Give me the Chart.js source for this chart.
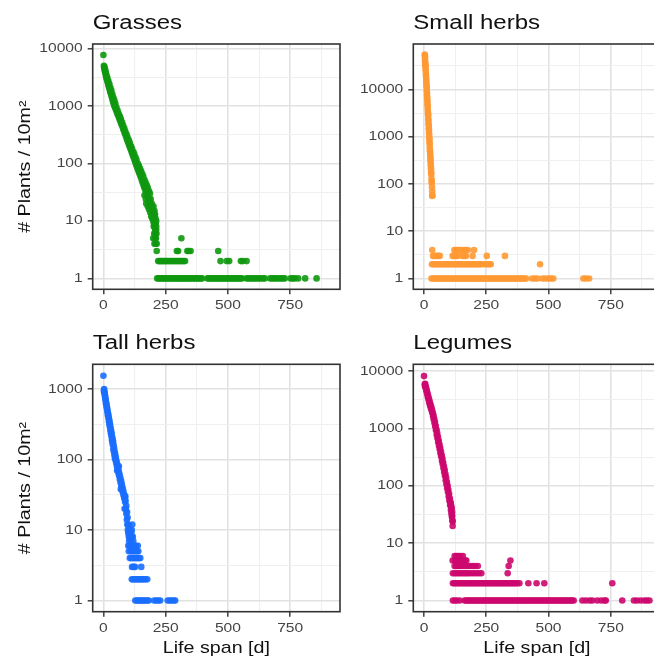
<!DOCTYPE html>
<html>
<head>
<meta charset="utf-8">
<title>Life span per plant group</title>
<script src="https://cdn.jsdelivr.net/npm/chart.js@4.4.1/dist/chart.umd.min.js"></script>
<style>
  body { margin: 0; background: #fff; overflow: hidden; }
  #wrap { position: relative; width: 654px; height: 667px; overflow: hidden; }
  #wrap canvas { position: absolute; }
</style>
</head>
<body>
<div id="wrap">
  <canvas id="grasses" width="345" height="330" style="left:0;top:0"></canvas>
  <canvas id="smallherbs" width="330" height="330" style="left:345px;top:0"></canvas>
  <canvas id="tallherbs" width="345" height="337" style="left:0;top:330px"></canvas>
  <canvas id="legumes" width="330" height="337" style="left:345px;top:330px"></canvas>
</div>
<script>
'use strict'

  ///////////////////////////////
 // Achsen: Werte und Gitter  //
///////////////////////////////

const xTickValues = [0, 250, 500, 750];
const xMinorValues = [125, 375, 625, 875];
const yTickValues = [1, 10, 100, 1000, 10000];
const yMinorValues = [3.162, 31.62, 316.2, 3162, 31623];

const X_TITLE = 'Life span [d]';
const Y_TITLE = '# Plants / 10m²';

  ////////////////////////////////////////////////////////////
 // Daten: [Lebensdauer in Tagen, Pflanzen pro 10 m²]      //
 // steep = dichter Abfall, sparse = [Anzahl, [Tage ...]]  //
////////////////////////////////////////////////////////////

const grassesSteep = [
  [0,7700],[2,5000],[3,4600],[5,4300],[6,4000],[8,3700],[10,3400],[11,3200],[13,3000],[15,2800],
  [17,2600],[19,2400],[21,2250],[23,2100],[25,1950],[27,1800],[29,1700],[31,1600],[33,1480],[35,1380],
  [37,1280],[39,1200],[41,1120],[43,1050],[45,990],[47,940],[50,870],[53,800],[56,740],[59,690],
  [62,640],[65,590],[68,545],[71,500],[74,465],[77,430],[80,395],[83,365],[86,335],[89,310],
  [92,285],[95,260],[98,240],[101,222],[104,205],[107,190],[110,175],[113,160],[116,148],[119,136],
  [122,125],[125,115],[128,106],[131,97],[134,89],[137,82],[140,76],[143,70],[146,65],[149,60],
  [152,55],[155,50],[158,46],[161,42],[164,39],[167,36],[170,33],[173,30],[176,28],[179,26],
  [182,24],[185,22],[188,20],[191,18],[194,17],[197,15],[200,14],[203,13],[206,12],[209,11],[212,10],
  [4,4800],[7,4300],[9,3900],[12,3500],[16,3100],[20,2700],[24,2400],[28,2100],[32,1850],[36,1600],
  [40,1400],[44,1250],[48,1100],[52,950],[57,830],[61,740],[66,660],[70,590],[75,520],[79,460],
  [84,410],[88,360],[93,320],[97,285],[102,255],[106,228],[111,200],[115,180],[120,160],[124,145],
  [129,128],[133,115],[138,100],[142,92],[147,82],[151,74],[156,66],[160,60],[165,52],[169,47],
  [174,42],[178,38],[183,33],[187,30],
  [165,28],[170,24],[172,20],[176,34],[178,18],[180,22],[183,16],[186,19],[188,14],[190,24],
  [192,12],[194,20],[196,11],[198,16],[200,10],[201,18],[202,8],[203,9],[204,6],[205,15],
  [206,8],[207,13],[208,7],[209,6],[210,9],[211,5],[212,8],[213,6],[214,4],[205,4],
  [208,5],[210,4],[200,5],[212,7]
];
const grassesSparse = [
  [5, [313]],
  [3, [214, 295, 300, 337, 342, 350, 461]],
  [2, [220, 225, 230, 235, 240, 245, 250, 256, 262, 268, 274, 280, 286, 292, 298, 304, 310, 316, 322, 328,
       470, 495, 505, 552, 560, 575]],
  [1, [216, 222, 228, 234, 240, 246, 252, 258, 264, 270, 276, 282, 288, 294, 300, 306, 312, 318, 324, 330,
       336, 342, 348, 354, 360, 366, 372, 378, 384, 390, 396, 418, 424, 430, 436, 442, 448, 454, 460, 466,
       472, 478, 484, 490, 496, 502, 508, 514, 520, 526, 532, 538, 544, 550, 556, 575, 582, 590, 598, 606,
       614, 622, 630, 640, 648, 670, 678, 686, 694, 704, 712, 720, 728, 752, 760, 768, 782, 810, 856]]
];

const smallHerbsSteep = [
  [3,55000],[4,48000],[4,42000],[5,38000],[5,34000],[6,30000],[7,24000],[8,19000],[9,15000],[10,12000],
  [11,9500],[12,7500],[12,8500],[13,6000],[14,4800],[15,3800],[16,3000],[16,3300],[17,2400],[18,1900],
  [19,1500],[20,1200],[21,950],[22,760],[23,600],[24,480],[24,520],[25,390],[26,310],[27,250],
  [28,200],[28,220],[29,160],[30,130],[31,105],[32,85],[33,70],[33,56],[34,58],
  [4,52000],[6,33000],[7,27000],[8,21000],[9,17000],[10,13500],[11,11000],[13,6800],[14,5500],[15,4400],
  [17,2800],[18,2200],[19,1750],[20,1400],[21,1100],[22,880],[23,700],[25,430],[26,350],[27,280],
  [29,175],[31,115]
];
const smallHerbsSparse = [
  [4, [33, 122, 128, 135, 142, 148, 160, 168, 176, 201]],
  [3, [36, 42, 50, 58, 63, 115, 120, 125, 130, 136, 155, 162, 168, 195, 252, 325]],
  [2, [32, 38, 44, 50, 56, 62, 68, 74, 80, 86, 92, 98, 104, 110, 116, 122, 128, 134, 140, 146,
       152, 158, 164, 170, 176, 182, 188, 194, 200, 206, 212, 218, 224, 230, 240, 250, 256, 262, 268, 466]],
  [1, [30, 36, 42, 48, 54, 60, 66, 72, 78, 84, 90, 96, 102, 108, 114, 120, 126, 132, 138, 144,
       150, 156, 162, 168, 174, 180, 186, 192, 198, 204, 210, 216, 222, 228, 234, 240, 246, 252, 258, 264,
       270, 276, 282, 288, 294, 300, 306, 312, 318, 324, 330, 336, 342, 348, 354, 360, 366, 372, 378, 384,
       390, 396, 402, 410, 434, 445, 456, 476, 488, 500, 510, 519, 640, 650, 663]]
];

const tallHerbsSteep = [
  [0,1540],[2,955],[3,900],[4,870],[6,780],[8,705],[10,630],[12,575],[14,525],[16,470],
  [18,425],[20,390],[22,350],[24,315],[26,290],[28,260],[30,235],[32,215],[34,190],[36,175],
  [38,160],[40,140],[42,130],[44,117],[46,105],[48,100],[51,90],[54,81],[57,72],[60,65],
  [63,59],[66,52],[69,47],[72,42],[75,38],[78,34],[81,31],[84,28],[87,25],[90,20],
  [92,17],[94,14],[96,12],[98,10],[100,9],[102,8],[103,7],[55,70],[62,80],[70,38],
  [85,20],[88,30],[92,22],[95,18],[97,15],[100,12],[102,11],[104,9],[106,8],[108,10],
  [110,7],[112,9],[115,8],[114,10],[118,8],[120,7],[116,12],
  [3,1000],[5,900],[7,800],[9,720],[11,650],[13,590],[15,540],[17,490],[19,450],[21,410],
  [23,370],[25,340],[27,310],[29,280],[31,255],[33,235],[35,210],[37,195],[39,180],[41,160],
  [43,145],[45,130],[47,120],[50,108],[53,95],[56,85],[59,76],[62,68],[65,61],[68,55],
  [71,50],[74,45],[77,40],[80,36],[83,32],[86,29],[89,26]
];
const tallHerbsSparse = [
  [6, [100, 106, 112, 118, 124, 130, 138]],
  [5, [102, 110, 118, 126, 134, 140]],
  [4, [106, 112, 118, 124, 130, 136, 142, 148]],
  [3, [115, 121, 127, 152]],
  [2, [114, 120, 126, 132, 138, 144, 150, 156, 162, 168, 176]],
  [1, [128, 134, 140, 146, 152, 158, 164, 170, 176, 182, 204, 212, 220, 228, 258, 266, 274, 282, 288]]
];

const legumesSteep = [
  [0,8200],[3,5900],[4,5500],[6,5200],[9,4600],[12,4100],[15,3600],[18,3200],[21,2850],[24,2550],
  [27,2300],[30,2100],[33,1900],[36,1650],[39,1450],[42,1250],[45,1080],[48,930],[51,780],[54,675],
  [57,575],[60,500],[63,435],[66,370],[69,325],[72,275],[75,240],[78,205],[81,175],[84,150],
  [87,125],[90,107],[93,91],[96,78],[99,65],[102,55],[105,46],[108,38],[110,33],[112,29],
  [114,25],[115,20],[111,40],[113,30],[115,24],[109,45],[106,52],
  [5,6000],[8,5300],[11,4700],[14,4150],[17,3700],[20,3300],[23,2950],[26,2650],[29,2400],[32,2150],
  [35,1900],[38,1700],[41,1480],[44,1300],[47,1120],[50,960],[53,830],[56,720],[59,620],[62,530],
  [65,460],[68,400],[71,345],[74,300],[77,255],[80,220],[83,190],[86,160],[89,138],[92,117],
  [95,100],[98,85],[101,72],[104,60],[107,50],[110,42],[113,35]
];
const legumesSparse = [
  [6, [123, 130, 138, 146, 156]],
  [5, [115, 125, 135, 145, 155, 165, 170, 347]],
  [4, [123, 130, 138, 146, 155, 165, 175, 185, 195, 205, 216, 340]],
  [3, [116, 124, 132, 140, 148, 156, 164, 172, 180, 190, 200, 210, 220, 230, 336]],
  [2, [116, 122, 128, 134, 140, 146, 152, 158, 164, 170, 176, 182, 188, 194, 200, 206, 212, 218, 224, 230,
       236, 242, 248, 254, 260, 266, 272, 278, 284, 290, 296, 302, 308, 314, 320, 326, 332, 338, 344, 350,
       356, 362, 368, 374, 383, 419, 452, 483, 756]],
  [1, [116, 124, 132, 143, 163, 169, 175, 181, 187, 193, 199, 205, 211, 217, 223, 229, 235, 241, 247, 253,
       259, 265, 271, 277, 283, 289, 295, 301, 307, 313, 319, 325, 331, 337, 343, 349, 355, 361, 367, 373,
       379, 385, 391, 397, 403, 409, 415, 421, 427, 433, 439, 445, 451, 457, 463, 469, 475, 481, 487, 493,
       499, 505, 511, 517, 523, 529, 535, 541, 547, 553, 559, 565, 571, 577, 583, 589, 595, 601, 636, 650,
       665, 676, 696, 712, 725, 730, 796, 843, 855, 870, 885, 895, 905]]
];

  //////////////////////////////////////////
 // Panels: Titel, Farbe, Skalen, Fläche //
//////////////////////////////////////////

const FONT = "'Liberation Sans', Arial, sans-serif";
const STRETCH = 1.2;   // Schrift etwas breiter laufen lassen

const panels = [
  { id: 'grasses', title: 'Grasses', steep: grassesSteep, sparse: grassesSparse,
    color: 'rgba(16,152,16,0.9)', logRange: [-0.19, 4.078],
    area: { left: 92.7, top: 44, right: 340, bottom: 289.3 }, yTitle: true, xTitle: false },
  { id: 'smallherbs', title: 'Small herbs', steep: smallHerbsSteep, sparse: smallHerbsSparse,
    color: 'rgba(255,153,51,0.9)', logRange: [-0.23, 4.965],
    area: { left: 68.3, top: 44, right: 315.6, bottom: 289.3 }, yTitle: false, xTitle: false },
  { id: 'tallherbs', title: 'Tall herbs', steep: tallHerbsSteep, sparse: tallHerbsSparse,
    color: 'rgba(26,110,255,0.9)', logRange: [-0.158, 3.35],
    area: { left: 92.7, top: 34.3, right: 340, bottom: 281.7 }, yTitle: true, xTitle: true },
  { id: 'legumes', title: 'Legumes', steep: legumesSteep, sparse: legumesSparse,
    color: 'rgba(204,8,110,0.9)', logRange: [-0.194, 4.12],
    area: { left: 68.3, top: 34.3, right: 315.6, bottom: 281.7 }, yTitle: false, xTitle: true }
];

/**
 * Text mit horizontaler Streckung zeichnen
 */
const wideText = ( ctx, text, x, y, align, size, color, rotate ) => {
  ctx.save();
  ctx.translate( x, y );
  if( rotate ) ctx.rotate( -Math.PI / 2 );
  ctx.scale( STRETCH, 1 );
  ctx.font = `${size}px ${FONT}`;
  ctx.fillStyle = color;
  ctx.textAlign = align;
  ctx.textBaseline = 'middle';
  ctx.fillText( text, 0, 0 );
  ctx.restore();
}

const isDecade = v => Math.abs( Math.log10(v) - Math.round(Math.log10(v)) ) < 1e-6;

  /////////////////////////////////////////////////////
 // Rahmen, Achsenbeschriftung und Titel pro Panel  //
/////////////////////////////////////////////////////

const panelDecor = {
  id: 'panelDecor',
  afterDraw( chart, args, opts ){
    const { ctx, chartArea: a, scales: { x, y } } = chart;

    ctx.save();
    ctx.strokeStyle = '#333333';
    ctx.lineWidth = 1.6;
    ctx.strokeRect( a.left, a.top, a.right - a.left, a.bottom - a.top );
    ctx.restore();

    xTickValues.forEach( v =>
      wideText( ctx, String(v), x.getPixelForValue(v), a.bottom + 16.5, 'center', 13, '#444444' ));

    yTickValues.filter( v => v >= y.min && v <= y.max ).forEach( v =>
      wideText( ctx, String(v), a.left - 10, y.getPixelForValue(v), 'right', 13, '#444444' ));

    wideText( ctx, opts.title, a.left, a.top - 21, 'left', 20, '#111111' );

    if( opts.xTitle )
      wideText( ctx, X_TITLE, (a.left + a.right) / 2, a.bottom + 36.5, 'center', 16.4, '#111111' );

    if( opts.yTitle )
      wideText( ctx, Y_TITLE, 25, (a.top + a.bottom) / 2, 'center', 16.4, '#111111', true );
  }
};

const gridColor = major => major ? '#e2e2e2' : '#efefef';

/**
 * @param {Object} panel
 */
const showPanel = panel => {

  const canvas = document.getElementById( panel.id );
  const points = panel.steep.map( ([x, y]) => ({ x, y }) );
  panel.sparse.forEach( ([count, days]) => days.forEach( d => points.push({ x: d, y: count }) ));

  const xGrid = [...xTickValues, ...xMinorValues].sort( (p, q) => p - q );
  const yGrid = [...yTickValues, ...yMinorValues].sort( (p, q) => p - q );

  new Chart( canvas, {
    type: 'scatter',
    data: {
      datasets: [{
        label: panel.title,
        data: points,
        backgroundColor: panel.color,
        pointRadius: 3.3,
        pointBorderWidth: 0,
        pointHoverRadius: 3.3
      }]
    },
    options: {
      responsive: false,
      animation: false,
      devicePixelRatio: 1,
      layout: {
        padding: {
          left: panel.area.left,
          top: panel.area.top,
          right: canvas.width - panel.area.right,
          bottom: canvas.height - panel.area.bottom
        }
      },
      scales: {
        x: {
          type: 'linear',
          min: -43,
          max: 950,
          bounds: 'data',
          afterBuildTicks: s => { s.ticks = xGrid.map( v => ({ value: v }) ); },
          afterFit: s => { s.height = 0; },
          ticks: { display: false },
          border: { display: false },
          grid: {
            color: c => gridColor( c.tick && c.tick.value % 250 === 0 ),
            lineWidth: c => c.tick && c.tick.value % 250 === 0 ? 1.6 : 1.1,
            tickLength: 5,
            tickWidth: 1.4,
            tickColor: c => c.tick && c.tick.value % 250 === 0 ? '#333333' : 'rgba(0,0,0,0)'
          }
        },
        y: {
          type: 'logarithmic',
          min: Math.pow( 10, panel.logRange[0] ),
          max: Math.pow( 10, panel.logRange[1] ),
          bounds: 'data',
          afterBuildTicks: s => {
            s.ticks = yGrid.filter( v => v >= s.min && v <= s.max ).map( v => ({ value: v }) );
          },
          afterFit: s => { s.width = 0; },
          ticks: { display: false },
          border: { display: false },
          grid: {
            color: c => gridColor( c.tick && isDecade(c.tick.value) ),
            lineWidth: c => c.tick && isDecade(c.tick.value) ? 1.6 : 1.1,
            tickLength: 5,
            tickWidth: 1.4,
            tickColor: c => c.tick && isDecade(c.tick.value) ? '#333333' : 'rgba(0,0,0,0)'
          }
        }
      },
      plugins: {
        legend: { display: false },
        tooltip: { enabled: false },
        panelDecor: { title: panel.title, xTitle: panel.xTitle, yTitle: panel.yTitle }
      }
    },
    plugins: [ panelDecor ]
  });
}

panels.forEach( showPanel );
</script>
</body>
</html>
